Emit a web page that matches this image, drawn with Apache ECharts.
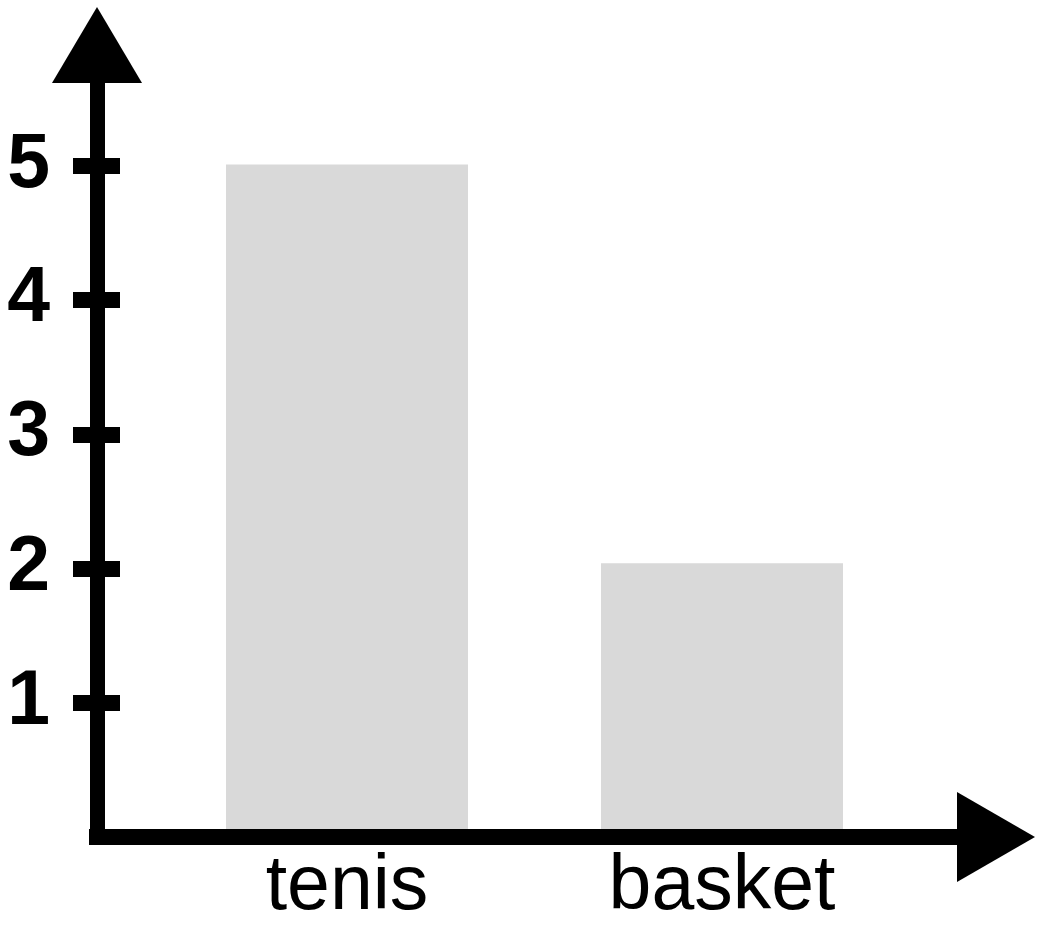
<!DOCTYPE html>
<html>
<head>
<meta charset="utf-8">
<script src="https://cdn.jsdelivr.net/npm/echarts@6/dist/echarts.min.js"></script>
<style>
html, body { margin: 0; padding: 0; background: #ffffff; }
#chart { width: 1040px; height: 926px; }
</style>
</head>
<body>
<div id="chart"></div>
<script>
// ---- data ----
const categories = ['tenis', 'basket'];
const values = [5, 2];
const yTickValues = [1, 2, 3, 4, 5];
const yMin = 0;
const yMax = 6;

// ---- chart ----
const chart = echarts.init(document.getElementById('chart'), null, { renderer: 'canvas' });
const black = '#000000';
const fontFamily = '"Liberation Sans", Arial, Helvetica, sans-serif';

const option = {
  animation: false,
  backgroundColor: '#ffffff',
  grid: [
    { left: 97, right: 44, top: 31.5, bottom: 89 },
    { left: 159.5, right: 130.5, top: 31.5, bottom: 89 }
  ],
  xAxis: [
    {
      gridIndex: 0, type: 'value', min: 0, max: 1, position: 'bottom', z: 10,
      axisLine: {
        show: true, onZero: false,
        symbol: ['none', 'triangle'], symbolSize: [90, 78], symbolOffset: [0, 0],
        lineStyle: { color: black, width: 16, cap: 'square' }
      },
      axisTick: { show: false }, axisLabel: { show: false }, splitLine: { show: false }
    },
    {
      gridIndex: 1, type: 'category', data: categories, position: 'bottom',
      axisLine: { show: false }, axisTick: { show: false }, splitLine: { show: false },
      axisLabel: { margin: 20, fontSize: 77, color: black, fontFamily: fontFamily }
    }
  ],
  yAxis: [
    {
      gridIndex: 0, type: 'value', min: yMin, max: yMax, interval: 1, position: 'left', z: 10,
      axisLine: {
        show: true, onZero: false,
        symbol: ['none', 'triangle'], symbolSize: [90, 76], symbolOffset: [0, -13.5],
        lineStyle: { color: black, width: 15, cap: 'square' }
      },
      axisTick: { show: true, length: 24, customValues: yTickValues, lineStyle: { color: black, width: 16 } },
      axisLabel: {
        customValues: yTickValues, margin: 47, fontSize: 77, fontWeight: 'bold',
        color: black, fontFamily: fontFamily, padding: [9, 0, 0, 0]
      },
      splitLine: { show: false }
    },
    {
      gridIndex: 0, type: 'value', min: yMin, max: yMax, interval: 1, position: 'left', offset: 0, z: 10,
      axisLine: { show: false, onZero: false },
      axisTick: { show: true, inside: true, length: 23, customValues: yTickValues, lineStyle: { color: black, width: 16 } },
      axisLabel: { show: false },
      splitLine: { show: false }
    },
    {
      gridIndex: 1, type: 'value', min: yMin, max: yMax, interval: 1, show: false,
      splitLine: { show: false }
    }
  ],
  series: [
    {
      type: 'bar', xAxisIndex: 1, yAxisIndex: 2, data: values,
      barWidth: 242, z: 1, silent: true,
      itemStyle: { color: '#d9d9d9' }
    }
  ]
};
chart.setOption(option);
</script>
</body>
</html>
